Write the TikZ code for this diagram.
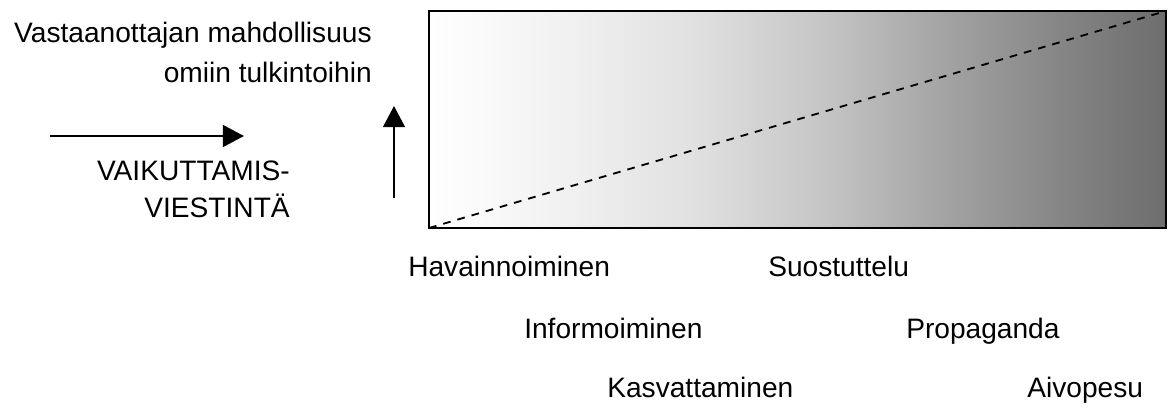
\documentclass[tikz,border=0pt]{standalone}
\usepackage{fontspec}
\setmainfont{Liberation Sans}
\usetikzlibrary{arrows.meta, positioning}
\pgfdeclarehorizontalshading{boxfade}{100bp}{color(0bp)=(white); color(25bp)=(white);
  color(35bp)=(black!6); color(43bp)=(black!12); color(52bp)=(black!23);
  color(60bp)=(black!36); color(68bp)=(black!48); color(75bp)=(black!57);
  color(100bp)=(black!57)}

\begin{document}
\begin{tikzpicture}[x=0.025cm, y=-0.025cm,
    lbl/.style={font=\fontsize{20}{28.4}\selectfont, inner sep=0pt},
    bigarrow/.style={line width=1.4pt, -{Triangle[length=15pt, width=15.5pt]}}]
  \useasboundingbox (0,0) rectangle (1174,407);
  % shaded box with the diagonal
  \coordinate (sw) at (429,228);
  \coordinate (ne) at (1166,11);
  \shade[draw=black, line width=2pt, shading=boxfade] (sw) rectangle (ne);
  \draw[line width=1.3pt, dash pattern=on 5.5pt off 5pt] (sw) -- (ne);
  % arrows
  \coordinate (h0) at (50,136);
  \coordinate (h1) at (244,136);
  \draw[bigarrow] (h0) -- (h1);
  \coordinate (v0) at (394,198);
  \coordinate (v1) at (394,106);
  \draw[bigarrow] (v0) -- (v1);
  % left labels
  \node[lbl, align=right, anchor=base east] (receiver) at (372,82)
    {Vastaanottajan mahdollisuus\\omiin tulkintoihin};
  \node[lbl, font=\fontsize{20}{26.2}\selectfont, align=right, anchor=base east] (influence) at (290,217)
    {VAIKUTTAMIS-\\VIESTINTÄ};
  % bottom labels
  \node[lbl, anchor=base west] (observe) at (408,276) {Havainnoiminen};
  \node[lbl, anchor=base west] (persuade) at (768,276) {Suostuttelu};
  \node[lbl, anchor=base west] (inform) at (524,338) {Informoiminen};
  \node[lbl, anchor=base west] (propaganda) at (906,338) {Propaganda};
  \node[lbl, anchor=base west] (educate) at (607,397) {Kasvattaminen};
  \node[lbl, anchor=base west] (brainwash) at (1027,397) {Aivopesu};
\end{tikzpicture}
\end{document}
